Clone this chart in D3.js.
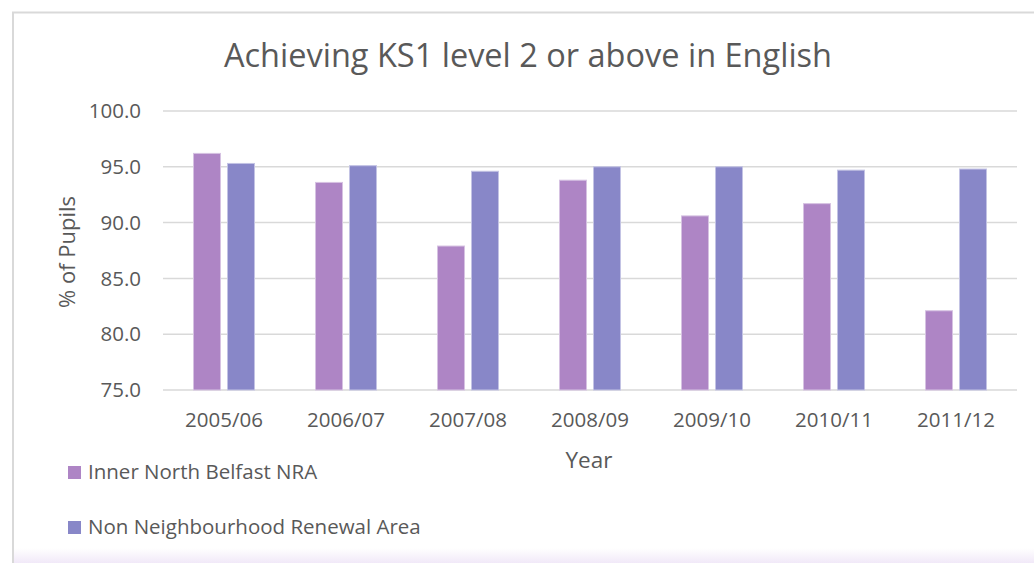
<!DOCTYPE html>
<html>
<head>
<meta charset="utf-8">
<script src="https://cdn.jsdelivr.net/npm/d3@7"></script>
<style>
  body { margin: 0; background: #fff; }
  svg { display: block; font-family: "Open Sans", Lato, sans-serif; }
</style>
</head>
<body>
<svg id="chart" width="1034" height="563"></svg>
<script>
(function(){
    var years = ['2005/06','2006/07','2007/08','2008/09','2009/10','2010/11','2011/12'];
    var innerNorth = [96.2, 93.6, 87.9, 93.8, 90.6, 91.7, 82.1];
    var nonNRA = [95.3, 95.1, 94.6, 95.0, 95.0, 94.7, 94.8];
    var seriesNames = ['Inner North Belfast NRA', 'Non Neighbourhood Renewal Area'];
    var seriesColors = ['#ae85c5', '#8887c8'];
    var yTicks = [75, 80, 85, 90, 95, 100];

    var svg = d3.select('#chart');

    // frame + soft purple fade at the bottom
    var defs = svg.append('defs');
    var grad = defs.append('linearGradient')
        .attr('id', 'fade').attr('x1', 0).attr('y1', 0).attr('x2', 0).attr('y2', 1);
    grad.append('stop').attr('offset', 0).attr('stop-color', '#ffffff');
    grad.append('stop').attr('offset', 1).attr('stop-color', '#f1e9f8');
    svg.append('rect').attr('x', 14).attr('y', 548).attr('width', 1020).attr('height', 15)
        .attr('fill', 'url(#fade)');
    svg.append('path')
        .attr('d', 'M13,563 V12.5 H1034')
        .attr('fill', 'none').attr('stroke', '#d9d9d9').attr('stroke-width', 2);

    var x0 = d3.scaleBand().domain(years).range([163, 1017]).paddingInner(0).paddingOuter(0);
    var y = d3.scaleLinear().domain([75, 100]).range([390, 111]);

    // gridlines
    svg.append('g').selectAll('line').data(yTicks).join('line')
        .attr('x1', 163).attr('x2', 1017)
        .attr('y1', function(d){ return y(d); }).attr('y2', function(d){ return y(d); })
        .attr('stroke', '#d9d9d9').attr('stroke-width', 1.5);

    // y tick labels
    svg.append('g').selectAll('text').data(yTicks).join('text')
        .attr('x', 141).attr('y', function(d){ return y(d); })
        .attr('dy', '0.35em')
        .attr('text-anchor', 'end')
        .attr('fill', '#595959').attr('font-size', 20.5)
        .text(function(d){ return d3.format('.1f')(d); });

    // bars
    var barW = 27, gap = 7;
    var series = [innerNorth, nonNRA];
    series.forEach(function(vals, si){
        svg.append('g').selectAll('rect').data(vals).join('rect')
            .attr('x', function(d, i){
                var c = x0(years[i]) + x0.bandwidth() / 2;
                return si === 0 ? c - gap / 2 - barW : c + gap / 2;
            })
            .attr('y', function(d){ return y(d); })
            .attr('width', barW)
            .attr('height', function(d){ return y(75) - y(d); })
            .attr('fill', seriesColors[si])
            .attr('stroke', si === 0 ? '#d6c2e2' : '#c3c3e4')
            .attr('stroke-width', 1);
    });

    // category labels
    svg.append('g').selectAll('text').data(years).join('text')
        .attr('x', function(d){ return x0(d) + x0.bandwidth() / 2; })
        .attr('y', 427)
        .attr('text-anchor', 'middle')
        .attr('fill', '#595959').attr('font-size', 20.5)
        .text(function(d){ return d; });

    // titles
    svg.append('text')
        .attr('x', 528).attr('y', 67)
        .attr('text-anchor', 'middle')
        .attr('fill', '#595959').attr('font-size', 32.5)
        .text('Achieving KS1 level 2 or above in English');

    svg.append('text')
        .attr('x', 589).attr('y', 468)
        .attr('text-anchor', 'middle')
        .attr('fill', '#595959').attr('font-size', 22.5)
        .text('Year');

    svg.append('text')
        .attr('transform', 'translate(75,252) rotate(-90)')
        .attr('text-anchor', 'middle')
        .attr('fill', '#595959').attr('font-size', 22)
        .text('% of Pupils');

    // legend
    var legend = svg.append('g').selectAll('g').data(seriesNames).join('g')
        .attr('transform', function(d, i){ return 'translate(68,' + (466 + i * 55) + ')'; });
    legend.append('rect')
        .attr('width', 13).attr('height', 13)
        .attr('fill', function(d, i){ return seriesColors[i]; });
    legend.append('text')
        .attr('x', 20).attr('y', 13)
        .attr('fill', '#595959').attr('font-size', 20.5)
        .text(function(d){ return d; });
})();
</script>
</body>
</html>
